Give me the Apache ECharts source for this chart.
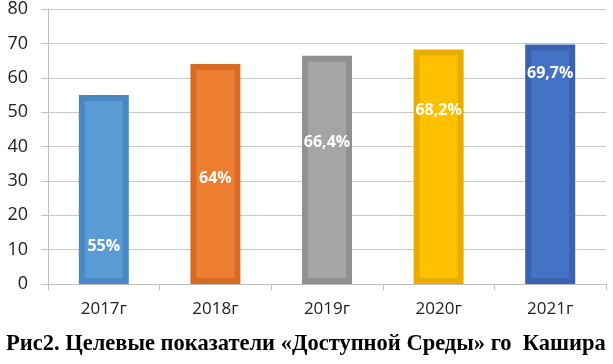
<!DOCTYPE html>
<html>
<head>
<meta charset="utf-8">
<script src="https://cdn.jsdelivr.net/npm/echarts@6/dist/echarts.min.js"></script>
<style>
  html, body { margin: 0; padding: 0; background: #fff; }
  #chart { width: 613px; height: 364px; }
</style>
</head>
<body>
<div id="chart"></div>
<script>
  // data
  const years = ['2017г', '2018г', '2019г', '2020г', '2021г'];
  const values = [55, 64, 66.4, 68.2, 69.7];
  const labels = ['55%', '64%', '66,4%', '68,2%', '69,7%'];
  const yTicks = [0, 10, 20, 30, 40, 50, 60, 70, 80];

  // bar fill / darker rim, office palette
  const fills = ['#5b9bd5', '#ed7d31', '#a5a5a5', '#ffc000', '#4472c4'];
  const rims = ['#4a88c4', '#d96a22', '#919191', '#e8ad00', '#3a62b0'];
  // where the label sits inside each bar (share of bar height from the top)
  const labelPos = ['80%', '52%', '38%', '26%', '12%'];

  const chart = echarts.init(document.getElementById('chart'), null, { renderer: 'canvas' });

  const option = {
    animation: false,
    title: {
      text: 'Рис2. Целевые показатели «Доступной Среды» го  Кашира',
      left: 1,
      top: 328,
      textStyle: {
        fontFamily: 'Liberation Serif',
        fontWeight: 'bold',
        fontSize: 22.5,
        color: '#000'
      }
    },
    grid: { left: 48, right: 7, top: 7, bottom: 80 },
    xAxis: {
      type: 'category',
      data: years,
      axisLine: { lineStyle: { color: '#bfbfbf', width: 1 } },
      axisTick: { show: true, length: 6, lineStyle: { color: '#bfbfbf' } },
      axisLabel: {
        margin: 17,
        fontFamily: 'Open Sans',
        fontSize: 17,
        color: '#222'
      }
    },
    yAxis: {
      type: 'value',
      min: yTicks[0],
      max: yTicks[yTicks.length - 1],
      interval: 10,
      axisLine: { show: true, lineStyle: { color: '#bfbfbf', width: 1 } },
      axisTick: { show: true, length: 7, lineStyle: { color: '#bfbfbf' } },
      splitLine: { lineStyle: { color: '#c8c8c8', width: 1 } },
      axisLabel: {
        margin: 20,
        fontFamily: 'Open Sans',
        fontSize: 18,
        color: '#222'
      }
    },
    series: [{
      type: 'bar',
      barWidth: 50,
      data: values.map((v, i) => ({
        value: v,
        itemStyle: { color: fills[i], borderColor: rims[i], borderWidth: 6 },
        label: {
          show: true,
          formatter: labels[i],
          position: ['50%', labelPos[i]],
          align: 'center',
          verticalAlign: 'middle',
          color: '#fff',
          fontFamily: 'Open Sans',
          fontWeight: 'bold',
          fontSize: 16
        }
      }))
    }]
  };

  chart.setOption(option);
</script>
</body>
</html>
